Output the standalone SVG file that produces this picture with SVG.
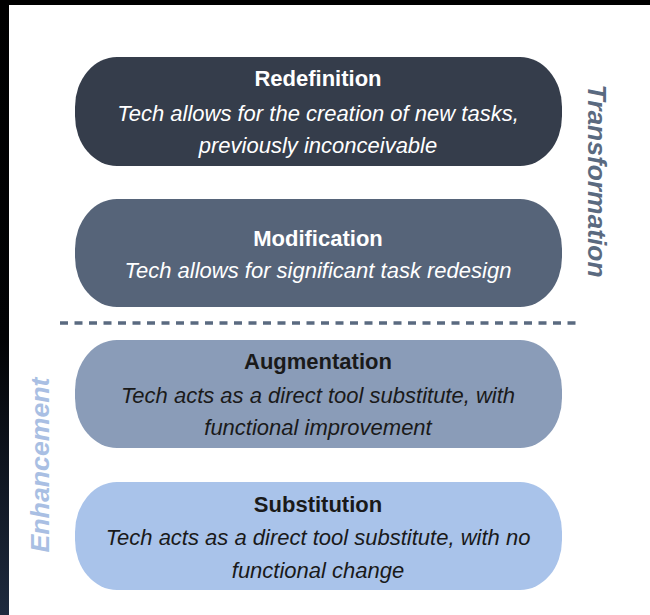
<svg xmlns="http://www.w3.org/2000/svg" width="650" height="615" viewBox="0 0 650 615">
<defs>
<linearGradient id="side" x1="0" y1="0" x2="0" y2="1">
<stop offset="0" stop-color="#000"/>
<stop offset="0.55" stop-color="#020305"/>
<stop offset="1" stop-color="#1e2a3e"/>
</linearGradient>
<style>
.t{font-family:"Liberation Sans",Arial,sans-serif;font-weight:bold;font-size:22px;text-anchor:middle}
.d{font-family:"Liberation Sans",Arial,sans-serif;font-style:italic;font-size:22px;text-anchor:middle}
.lw{fill:#fff}
.lb{fill:#1a1a1a}
.side{font-family:"Liberation Sans",Arial,sans-serif;font-weight:bold;font-style:italic;font-size:25px;text-anchor:middle}
</style>
</defs>
<rect x="0" y="0" width="650" height="615" fill="#000"/>
<rect x="0" y="0" width="9" height="615" fill="url(#side)"/>
<rect x="9" y="5" width="641" height="610" fill="#fff"/>

<g id="redefinition">
<rect x="75" y="57" width="487" height="109" rx="42" ry="50" fill="#353d4b"/>
<text class="t lw" x="318" y="86">Redefinition</text>
<text class="d lw" x="318" y="121">Tech allows for the creation of new tasks,</text>
<text class="d lw" x="318" y="153">previously inconceivable</text>
</g>
<g id="modification">
<rect x="75" y="199" width="487" height="108" rx="42" ry="50" fill="#566479"/>
<text class="t lw" x="318" y="246">Modification</text>
<text class="d lw" x="318" y="278">Tech allows for significant task redesign</text>
</g>
<g id="augmentation">
<rect x="75" y="340" width="487" height="108" rx="42" ry="50" fill="#8a9cb8"/>
<text class="t lb" x="318" y="369">Augmentation</text>
<text class="d lb" x="318" y="403">Tech acts as a direct tool substitute, with</text>
<text class="d lb" x="318" y="435">functional improvement</text>
</g>
<g id="substitution">
<rect x="75" y="482" width="487" height="108" rx="42" ry="50" fill="#a9c3ea"/>
<text class="t lb" x="318" y="512">Substitution</text>
<text class="d lb" x="318" y="545">Tech acts as a direct tool substitute, with no</text>
<text class="d lb" x="318" y="578">functional change</text>
</g>
<g id="connectors">
<line x1="60" y1="323" x2="578" y2="323" stroke="#5a6a80" stroke-width="3.5" stroke-dasharray="8,6.5"/>
</g>
<g id="labels">
<text class="side" fill="#5a6a80" transform="translate(588,181) rotate(90)" textLength="193" lengthAdjust="spacingAndGlyphs">Transformation</text>
<text class="side" fill="#a9bfe3" transform="translate(49,465) rotate(-90)" textLength="175" lengthAdjust="spacingAndGlyphs">Enhancement</text>
</g>
</svg>
